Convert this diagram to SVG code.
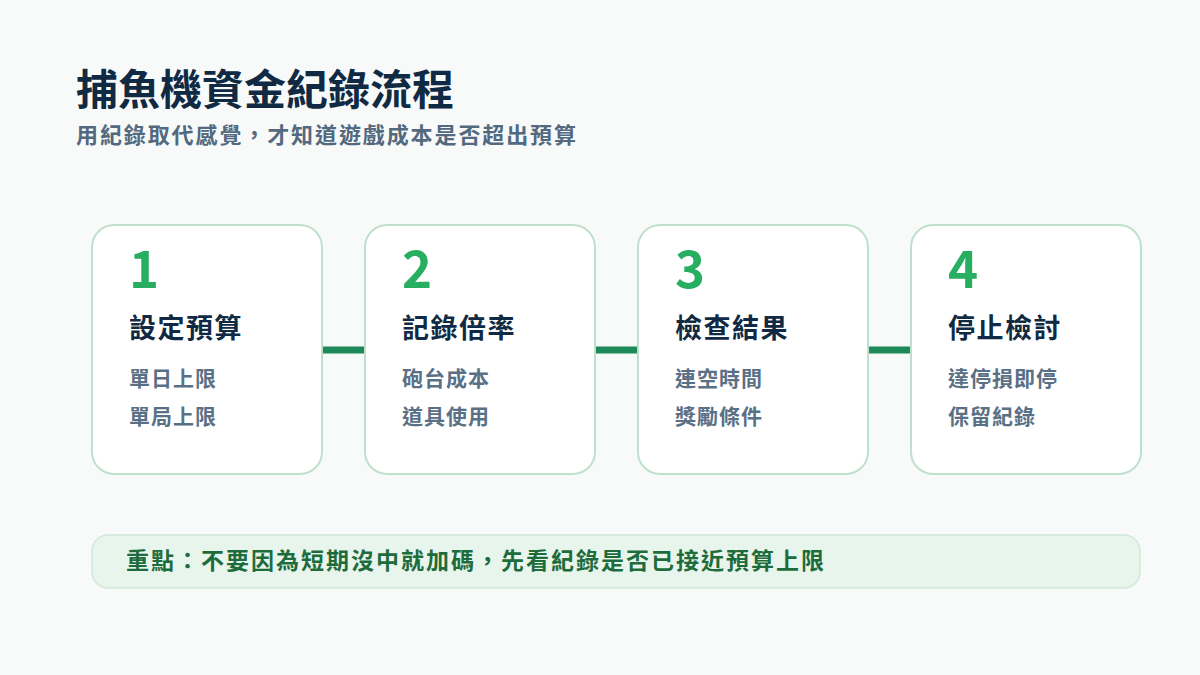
<svg xmlns="http://www.w3.org/2000/svg" width="1200" height="675" viewBox="0 0 1200 675">
<style>
text{font-family:"Noto Sans CJK TC","Noto Sans",sans-serif;font-weight:700}
.card{fill:#ffffff;stroke:#bfe0cc;stroke-width:2}
.num{fill:#27ae60;font-size:51px}
.ttl{fill:#102a43;font-size:27px;letter-spacing:1.5px}
.itm{fill:#5a7086;font-size:21px;letter-spacing:1px}
.con{stroke:#1e8a5a;stroke-width:7;stroke-linecap:round}
</style>
<rect width="1200" height="675" fill="#f7faf8"/>
<text x="76" y="105" font-size="42" fill="#102a43">捕魚機資金紀錄流程</text>
<text x="76" y="143" font-size="22" fill="#52697f" letter-spacing="1.9">用紀錄取代感覺，才知道遊戲成本是否超出預算</text>
<g id="connectors">
<line class="con" x1="322" y1="350" x2="365" y2="350"/>
<line class="con" x1="595" y1="350" x2="638" y2="350"/>
<line class="con" x1="868" y1="350" x2="911" y2="350"/>
</g>
<g id="step1">
<rect class="card" x="92" y="225" width="230" height="249" rx="22"/>
<text class="num" x="129" y="288">1</text>
<text class="ttl" x="129" y="338">設定預算</text>
<text class="itm" x="129" y="386">單日上限</text>
<text class="itm" x="129" y="424">單局上限</text>
</g>
<g id="step2">
<rect class="card" x="365" y="225" width="230" height="249" rx="22"/>
<text class="num" x="402" y="288">2</text>
<text class="ttl" x="402" y="338">記錄倍率</text>
<text class="itm" x="402" y="386">砲台成本</text>
<text class="itm" x="402" y="424">道具使用</text>
</g>
<g id="step3">
<rect class="card" x="638" y="225" width="230" height="249" rx="22"/>
<text class="num" x="675" y="288">3</text>
<text class="ttl" x="675" y="338">檢查結果</text>
<text class="itm" x="675" y="386">連空時間</text>
<text class="itm" x="675" y="424">獎勵條件</text>
</g>
<g id="step4">
<rect class="card" x="911" y="225" width="230" height="249" rx="22"/>
<text class="num" x="948" y="288">4</text>
<text class="ttl" x="948" y="338">停止檢討</text>
<text class="itm" x="948" y="386">達停損即停</text>
<text class="itm" x="948" y="424">保留紀錄</text>
</g>
<g id="note">
<rect x="92" y="535" width="1048" height="53" rx="16" fill="#e8f5ec" stroke="#cfe8d8" stroke-width="1.5"/>
<text x="126" y="569" font-size="23" fill="#1e6b3c" letter-spacing="2">重點：不要因為短期沒中就加碼，先看紀錄是否已接近預算上限</text>
</g>
</svg>
